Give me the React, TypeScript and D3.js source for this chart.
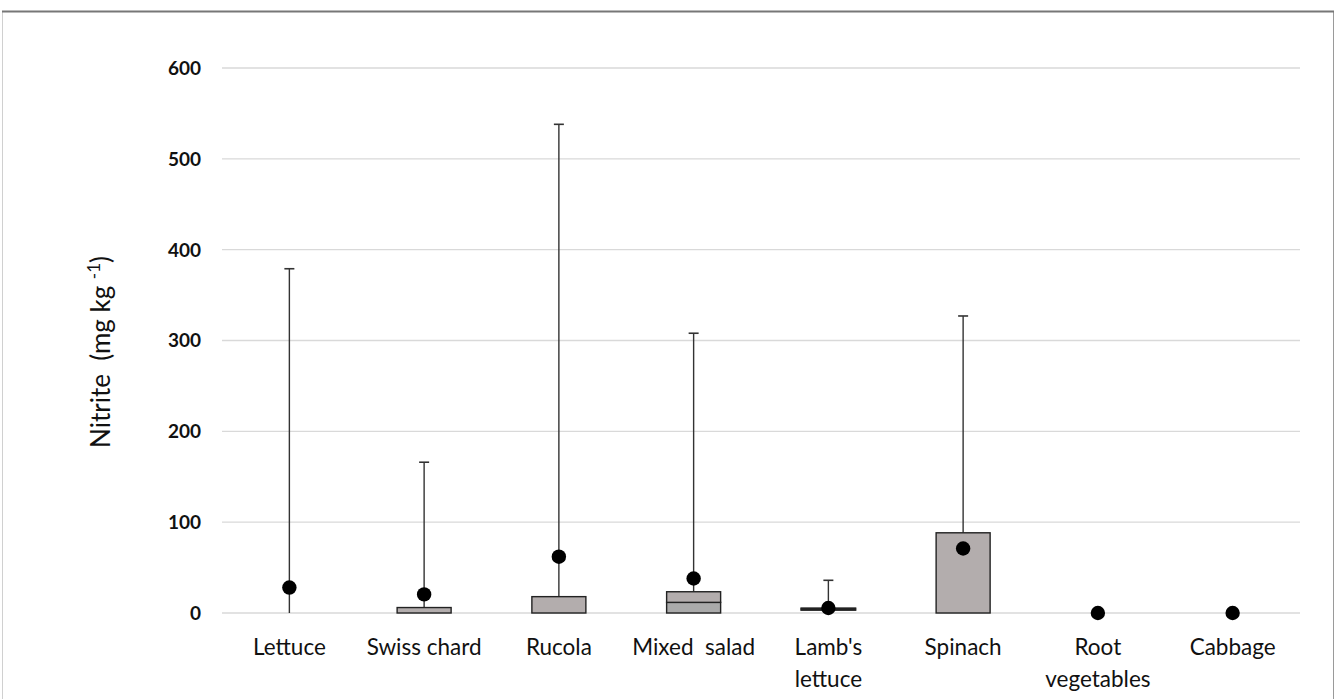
import React from "react";
import * as d3 from "d3";

const categories = ["Lettuce", "Swiss chard", "Rucola", "Mixed  salad", "Lamb's lettuce", "Spinach", "Root vegetables", "Cabbage"];
const labelLines = [["Lettuce"], ["Swiss chard"], ["Rucola"], ["Mixed  salad"], ["Lamb's", "lettuce"], ["Spinach"], ["Root", "vegetables"], ["Cabbage"]];
const q1Values = [0, 0, 0, 0, 3.5, 0, 0, 0];
const medianValues = [0, 0, 0, 11.7, 3.5, 0, 0, 0];
const q3Values = [0, 6, 18, 23.4, 5, 88.3, 0, 0];
const maxValues = [379, 166, 538, 308, 36, 327, 0, 0];
const meanValues = [28, 20.5, 62, 38, 5.5, 71, 0, 0];
const yTicks = [0, 100, 200, 300, 400, 500, 600];

const W = 1336;
const H = 699;
const left = 222;
const right = 1300;
const top = 68;
const bottom = 613;

export default function App() {
  const x = d3.scaleBand<string>().domain(categories).range([left, right]);
  const y = d3.scaleLinear().domain([0, 600]).range([bottom, top]);
  const bw = 54;
  const cap = 10;
  const font = "Lato, 'Open Sans', sans-serif";

  return (
    <svg width={W} height={H} style={{ position: "absolute", left: 0, top: 0, background: "#fff" }}>
      <rect x={0} y={0} width={W} height={H} fill="#fff" />
      {/* frame */}
      <line x1={2.5} y1={12} x2={2.5} y2={H} stroke="#d0d0d0" strokeWidth={1} />
      <line x1={1333.5} y1={12} x2={1333.5} y2={H} stroke="#9a9a9a" strokeWidth={1} />
      <line x1={2} y1={11.5} x2={1334} y2={11.5} stroke="#777" strokeWidth={2} />

      {/* gridlines */}
      {yTicks.map((t) => (
        <line key={"g" + t} x1={left} x2={right} y1={y(t)} y2={y(t)} stroke="#d9d9d9" strokeWidth={1.3} />
      ))}
      {/* y tick labels */}
      {yTicks.map((t) => (
        <text key={"t" + t} x={201} y={y(t)} dy="0.36em" textAnchor="end" fontFamily={font} fontWeight="bold" fontSize={19} fill="#111">
          {t}
        </text>
      ))}
      {/* y axis title */}
      <text transform={`translate(110,${352}) rotate(-90)`} textAnchor="middle" fontFamily={font} fontSize={26} fill="#111" style={{ whiteSpace: "pre" }}>
        {"Nitrite  (mg kg "}
        <tspan dy={-10} fontSize={17}>-1</tspan>
        <tspan dy={10}>)</tspan>
      </text>

      {categories.map((c, i) => {
        const cx = (x(c) as number) + x.bandwidth() / 2;
        const q1 = q1Values[i];
        const med = medianValues[i];
        const q3 = q3Values[i];
        const mx = maxValues[i];
        const mean = meanValues[i];
        return (
          <g key={c}>
            {mx > q3 && (
              <g>
                <line x1={cx} x2={cx} y1={y(q3)} y2={y(mx)} stroke="#333" strokeWidth={1.4} />
                <line x1={cx - cap / 2} x2={cx + cap / 2} y1={y(mx)} y2={y(mx)} stroke="#333" strokeWidth={1.6} />
              </g>
            )}
            {med > q1 && (
              <rect x={cx - bw / 2} y={y(med)} width={bw} height={y(q1) - y(med)} fill="#aaaaaa" stroke="#222" strokeWidth={1.4} />
            )}
            {q3 > med && (
              <rect x={cx - bw / 2} y={y(q3)} width={bw} height={y(med) - y(q3)} fill="#b3adad" stroke="#222" strokeWidth={1.4} />
            )}
            {q3 > q1 && q3 - q1 < 3 && (
              <rect x={cx - bw / 2} y={y(q3)} width={bw} height={y(q1) - y(q3)} fill="#222" stroke="#222" strokeWidth={2} />
            )}
            <circle cx={cx} cy={y(mean)} r={7.2} fill="#000" />
            {labelLines[i].map((ln, k) => (
              <text key={k} x={cx} y={655 + k * 32} textAnchor="middle" fontFamily={font} fontSize={22.5} fill="#111" style={{ whiteSpace: "pre" }}>
                {ln}
              </text>
            ))}
          </g>
        );
      })}
    </svg>
  );
}
